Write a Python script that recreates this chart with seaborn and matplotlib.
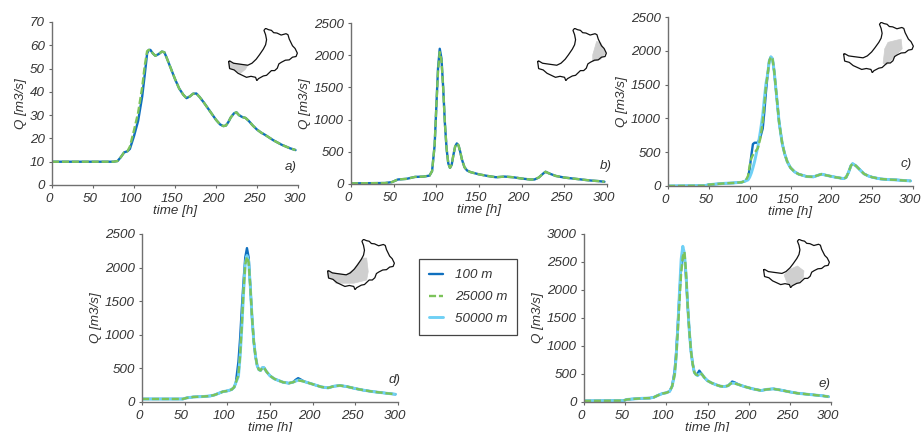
import matplotlib
matplotlib.use('Agg')
import matplotlib.pyplot as plt
from matplotlib.transforms import ScaledTranslation
import seaborn as sns

# hydrographs, time in hours
time_a = [0, 75, 80, 84, 88, 92, 95, 100, 105, 110, 113, 116, 118, 120, 123, 126, 130, 134, 137, 140, 145, 150,
          155, 160, 164, 168, 172, 176, 180, 185, 190, 195, 200, 205, 209, 212, 215, 218, 222, 225, 228, 232,
          236, 240, 245, 250, 255, 260, 270, 280, 290, 297]
q_a_100 = [10, 10, 10.3, 12, 14, 14.5, 15.5, 21, 27.5, 38, 47, 56.5, 58, 58, 56.5, 55.5, 56.2, 57.3, 57, 54.5, 50, 45.5,
           41.5, 38.8, 37.3, 38, 39.2, 39.3, 37.8, 35.5, 33, 30.5, 28, 26, 25.3, 25.5, 27, 29, 30.8, 31.2, 30, 29.2,
           28.8, 27.5, 25.5, 23.8, 22.5, 21.5, 19.2, 17.3, 15.8, 15]
q_a_25000 = {95: 16.5, 100: 23.5, 105: 31, 110: 42, 113: 51, 116: 57.5}

time_b = [0, 40, 48, 55, 65, 75, 85, 92, 95, 98, 100, 102, 104, 106, 108, 110, 112, 114, 116, 118, 120, 122, 124,
          126, 128, 130, 133, 136, 140, 150, 160, 170, 180, 190, 200, 210, 215, 220, 225, 228, 232, 240, 250, 260,
          270, 280, 290, 297]
q_b_100 = [10, 15, 30, 70, 80, 110, 115, 130, 200, 600, 1200, 1800, 2100, 1950, 1500, 950, 550, 320, 250, 300, 450, 580,
           630, 600, 500, 380, 260, 210, 185, 150, 125, 105, 115, 105, 85, 70, 70, 100, 160, 190, 165, 125, 100, 85,
           70, 55, 45, 35]
q_b_25000 = {102: 1760, 104: 2050, 106: 1920}

time_c = [0, 45, 50, 60, 70, 80, 90, 95, 98, 100, 102, 104, 106, 110, 113, 116, 118, 120, 122, 124, 126, 128, 130,
          132, 134, 136, 138, 140, 143, 146, 150, 155, 160, 170, 178, 184, 188, 195, 205, 215, 218, 221, 224, 226,
          230, 235, 240, 245, 250, 260, 270, 280, 290, 297]
q_c_100 = [0, 5, 20, 30, 40, 45, 55, 75, 130, 250, 450, 620, 640, 640, 720, 850, 1100, 1400, 1650, 1850, 1910, 1880, 1700,
           1450, 1200, 950, 780, 620, 470, 360, 270, 210, 175, 140, 135, 160, 175, 155, 130, 110, 125, 200, 300, 330,
           300, 240, 180, 150, 130, 105, 95, 90, 80, 75]
q_c_25000 = {98: 150, 100: 300, 102: 410, 104: 460, 106: 490, 110: 560, 113: 700, 116: 950, 118: 1200, 120: 1480}
q_c_50000 = {98: 90, 100: 130, 102: 190, 104: 270, 106: 360, 110: 580, 113: 800, 116: 1050, 118: 1300, 120: 1520}

time_d = [0, 48, 52, 60, 70, 80, 85, 90, 95, 100, 105, 108, 110, 113, 115, 117, 119, 121, 123, 125, 127, 129, 131,
          133, 135, 137, 139, 141, 143, 146, 150, 155, 160, 165, 172, 177, 180, 183, 186, 190, 200, 210, 218, 225,
          232, 240, 250, 260, 270, 280, 290, 297]
q_d_100 = [45, 45, 60, 75, 80, 90, 105, 130, 155, 165, 185, 220, 290, 600, 950, 1400, 1800, 2150, 2290, 2150, 1700, 1250, 900,
           680, 540, 480, 470, 510, 510, 450, 390, 345, 320, 295, 280, 295, 330, 355, 335, 305, 265, 225, 210, 235,
           245, 230, 200, 175, 155, 140, 125, 115]
q_d_25000 = {113: 400, 115: 700, 117: 1150, 119: 1650, 121: 2050, 123: 2160, 125: 2080, 180: 310, 183: 320, 186: 315}
q_d_50000 = {113: 380, 115: 680, 117: 1120, 119: 1620, 121: 2060, 123: 2180, 125: 2100, 180: 310, 183: 325, 186: 320}

time_e = [0, 48, 52, 60, 70, 80, 85, 90, 95, 100, 104, 107, 110, 112, 114, 116, 118, 120, 122, 124, 126, 128, 130,
          132, 134, 136, 138, 140, 143, 146, 150, 155, 160, 165, 170, 175, 178, 180, 183, 188, 195, 205, 215, 222,
          230, 240, 250, 260, 270, 280, 290, 297]
q_e_100 = [20, 25, 45, 55, 65, 70, 85, 120, 150, 165, 190, 280, 550, 900, 1400, 1950, 2400, 2650, 2620, 2200, 1700, 1250, 900,
           680, 530, 490, 510, 560, 500, 440, 380, 340, 310, 285, 275, 290, 330, 365, 350, 310, 275, 235, 205, 225,
           235, 210, 180, 155, 140, 125, 110, 95]
q_e_25000 = {110: 480, 112: 800, 114: 1280, 116: 1800, 118: 2300, 120: 2600, 122: 2680, 124: 2300, 138: 480, 140: 510,
             180: 335, 183: 330}
q_e_50000 = {110: 480, 112: 820, 114: 1350, 116: 1980, 118: 2550, 120: 2780, 122: 2650, 124: 2250, 138: 470, 140: 500,
             180: 335, 183: 335}

# basin outline and the shaded sub-basins for the small maps
outline_x = [683, 686, 698, 712, 742, 755, 768, 778, 790, 797, 800, 797, 792, 797, 806, 815, 822, 832, 845, 860, 866,
             870, 875, 880, 888, 895, 891, 880, 870, 858, 846, 838, 833, 825, 815, 800, 790, 775, 770, 766, 752, 738,
             725, 712, 700, 686, 683]
outline_y = [185, 183, 190, 192, 196, 190, 178, 165, 148, 135, 120, 105, 92, 86, 90, 92, 99, 100, 106, 102, 105,
             118, 128, 138, 146, 160, 170, 172, 180, 181, 187, 192, 205, 212, 212, 226, 228, 236, 242, 232, 229, 232,
             226, 220, 210, 206, 185]
shade_a = ([683, 700, 742, 735, 720, 700, 685], [185, 190, 196, 208, 220, 210, 205])
shade_b = ([865, 878, 893, 878, 853, 853], [125, 130, 158, 178, 185, 165])
shade_c = ([818, 858, 861, 833, 813, 803, 808], [148, 138, 168, 198, 218, 213, 168])
shade_d = ([683, 700, 742, 765, 792, 807, 812, 807, 766, 709, 700, 685],
           [185, 190, 196, 180, 144, 144, 186, 212, 222, 222, 210, 205])
shade_e = ([749, 768, 792, 813, 811, 795, 768, 758], [201, 183, 172, 188, 209, 225, 236, 225])

series_names = ['100 m', '25000 m', '50000 m']
tick_x = [0, 50, 100, 150, 200, 250, 300]


def swap(times, base, changed):
    return [changed.get(t, q) for t, q in zip(times, base)]


def to_fig(left, right, top, bottom):
    return [left / 922, 1 - bottom / 432, (right - left) / 922, (bottom - top) / 432]


sns.set_theme(style='ticks')
plt.rcParams['font.family'] = ['Liberation Sans', 'DejaVu Sans']
plt.rcParams['font.style'] = 'italic'

fig = plt.figure(figsize=(9.22, 4.32), dpi=100)

panels = [
    dict(box=(52, 298, 22, 185), ymax=70, step=10, t=time_a, q=q_a_100, q2=q_a_25000, q3=None, tag='a)',
         tag_pos=(0.995, 0.11), shade=shade_a, inset=(228, 298, 28, 81)),
    dict(box=(351, 607, 23, 184), ymax=2500, step=500, t=time_b, q=q_b_100, q2=q_b_25000, q3=None, tag='b)',
         tag_pos=(1.02, 0.11), shade=shade_b, inset=(537, 607, 28, 81)),
    dict(box=(668, 913, 17, 186), ymax=2500, step=500, t=time_c, q=q_c_100, q2=q_c_25000, q3=q_c_50000, tag='c)',
         tag_pos=(0.995, 0.13), shade=shade_c, inset=(843, 914, 22, 73)),
    dict(box=(142, 398, 234, 402), ymax=2500, step=500, t=time_d, q=q_d_100, q2=q_d_25000, q3=q_d_50000, tag='d)',
         tag_pos=(1.01, 0.13), shade=shade_d, inset=(327, 395, 239, 290)),
    dict(box=(584, 831, 234, 402), ymax=3000, step=500, t=time_e, q=q_e_100, q2=q_e_25000, q3=q_e_50000, tag='e)',
         tag_pos=(1.0, 0.11), shade=shade_e, inset=(763, 830, 239, 288)),
]

for p in panels:
    ax = fig.add_axes(to_fig(*p['box']))
    sns.lineplot(x=p['t'], y=p['q'], color='#0f6fbe', lw=1.7, ax=ax, label=series_names[0])
    if p['q3'] is not None:
        sns.lineplot(x=p['t'], y=swap(p['t'], p['q'], p['q3']), color='#6fd0f5', lw=2.1, ax=ax, label=series_names[2])
    sns.lineplot(x=p['t'], y=swap(p['t'], p['q'], p['q2']), color='#7cc35a', lw=1.7, ax=ax, label=series_names[1])
    for line in ax.get_lines():
        if line.get_color() == '#7cc35a':
            line.set_dashes((3, 1.2))
    ax.legend().remove()
    ax.set_xlim(0, 300)
    ax.set_ylim(0, p['ymax'])
    ax.set_xticks(tick_x)
    ax.set_yticks(range(0, p['ymax'] + 1, p['step']))
    ax.tick_params(labelsize=9.6, length=2.5, width=0.8, color='#666666', labelcolor='#333333')
    ax.tick_params(axis='x', pad=3.5)
    ax.tick_params(axis='y', pad=2.5)
    # tick labels sit a little left of their ticks in the original
    for tick in ax.get_xticklabels():
        tick.set_transform(tick.get_transform() + ScaledTranslation(-3 / 100, 0, fig.dpi_scale_trans))
    for name in ['top', 'right']:
        ax.spines[name].set_visible(False)
    for name in ['left', 'bottom']:
        ax.spines[name].set_color('#707070')
        ax.spines[name].set_linewidth(1.0)
    ax.set_xlabel('time [h]', fontsize=9.6, color='#333333', labelpad=-0.5)
    ax.set_ylabel('Q [m3/s]', fontsize=9.6, color='#333333', labelpad=2)
    ax.text(p['tag_pos'][0], p['tag_pos'][1], p['tag'], transform=ax.transAxes, ha='right', va='center',
            fontsize=9.6, color='#333333')

    # small map of the basin
    mini = fig.add_axes(to_fig(*p['inset']))
    mini.fill(p['shade'][0], p['shade'][1], color='#cfcfcf', lw=0.5)
    mini.plot(outline_x, outline_y, color='#111111', lw=0.9)
    mini.set_xlim(681, 897)
    mini.set_ylim(243, 85)
    mini.axis('off')

handles, labels = fig.axes[-2].get_legend_handles_labels()
order = [labels.index(n) for n in series_names]
leg = fig.legend([handles[i] for i in order], series_names, loc='center', bbox_to_anchor=(468 / 922, 1 - 297 / 432),
                 fontsize=9.6, frameon=True, fancybox=False, edgecolor='#444444', framealpha=1, labelspacing=0.72,
                 handlelength=1.1, handletextpad=0.85, borderpad=0.72, borderaxespad=0, labelcolor='#333333')
leg.get_frame().set_linewidth(0.9)

fig.savefig('out.png', dpi=100)
